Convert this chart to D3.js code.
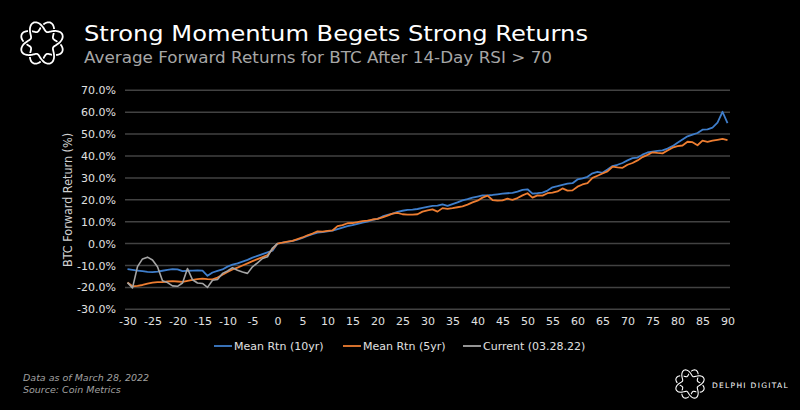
<!DOCTYPE html>
<html><head><meta charset="utf-8">
<script src="https://cdn.jsdelivr.net/npm/d3@7/dist/d3.min.js"></script>
<style>html,body{margin:0;padding:0;background:#000;}svg{display:block;}</style>
</head><body>
<svg id="c" width="800" height="410"></svg>
<script>
const days = d3.range(-30, 91);
const xTicks = d3.range(-30, 91, 5);
const yTicks = [-30, -20, -10, 0, 10, 20, 30, 40, 50, 60, 70];
const seriesNames = ["Mean Rtn (10yr)", "Mean Rtn (5yr)", "Current (03.28.22)"];
const mean10yr = [-11.7,-12.0,-12.3,-12.6,-12.9,-13.0,-12.8,-12.4,-12.0,-11.7,-11.8,-12.6,-12.4,-12.3,-12.2,-12.3,-14.7,-13.2,-12.5,-11.8,-10.5,-9.6,-9.0,-8.2,-7.4,-6.4,-5.6,-4.8,-4.0,-3.2,
 0,0.4,0.8,1.2,1.8,2.6,3.5,4.3,5.0,5.2,5.6,5.9,6.6,7.3,8.0,8.4,9.0,9.6,10.0,10.8,11.3,12.4,13.1,13.7,14.5,15.0,15.4,15.5,15.8,16.3,
 16.8,17.2,17.3,17.9,17.2,18.0,18.8,19.7,20.3,21.0,21.5,22.0,22.0,22.2,22.5,22.8,23.0,23.2,23.7,24.5,24.8,22.8,23.0,23.3,24.2,25.7,26.2,26.8,27.4,27.6,
 29.3,29.8,30.5,32.1,32.8,32.3,33.8,35.4,36.0,36.8,38.0,39.0,39.3,40.6,41.6,42.0,42.3,42.6,43.4,44.5,46.0,47.5,49.0,49.8,50.5,52.0,52.2,53.0,55.2,60.2,55.0];
const mean5yr = [-17.8,-19.5,-19.3,-18.9,-18.3,-17.8,-17.6,-17.6,-17.3,-17.1,-17.3,-17.5,-17.0,-16.6,-16.2,-16.0,-16.2,-16.3,-15.5,-14.2,-13.0,-11.8,-11.0,-10.0,-9.0,-8.0,-7.1,-6.2,-5.2,-2.5,
 0,0.4,0.9,1.2,2.0,2.8,3.8,4.6,5.6,5.5,5.8,6.0,8.0,8.4,9.3,9.4,9.8,10.3,10.5,11.0,11.3,12.0,12.8,13.7,14.0,13.4,13.2,13.2,13.4,14.6,
 15.2,15.6,14.6,16.2,15.9,16.2,16.6,17.0,17.8,18.8,19.6,21.0,21.9,19.9,19.6,19.7,20.5,20.0,20.8,22.0,23.0,21.0,22.0,21.9,23.0,23.3,23.8,25.2,24.2,24.3,
 26.0,27.0,27.6,30.0,31.0,32.0,33.0,35.1,34.8,34.6,36.0,36.8,38.0,39.5,40.5,41.7,41.4,41.2,42.5,43.8,44.5,44.8,46.5,46.3,44.9,47.0,46.5,47.0,47.4,47.8,47.3];
const current = [-17.8,-20.2,-10.5,-7.0,-6.2,-7.5,-10.6,-17.0,-17.8,-19.3,-19.5,-18.0,-11.4,-16.5,-18.0,-18.2,-20.0,-16.7,-16.4,-13.6,-12.5,-11.0,-12.2,-13.0,-13.6,-10.6,-8.8,-6.8,-6.0,-2.0,0];

const colors = ["#3f7ecb", "#ED7D31", "#A5A5A5"];
const svg = d3.select("#c");
svg.append("rect").attr("width", 800).attr("height", 410).attr("fill", "#000");

const x = d3.scaleLinear().domain([-30.5, 90.5]).range([125, 730]);
const y = d3.scaleLinear().domain([-30, 70]).range([309.3, 90.3]);
const FONT = "'DejaVu Sans', sans-serif";

// gridlines
svg.append("g").selectAll("line").data(yTicks).join("line")
  .attr("x1", 125).attr("x2", 730)
  .attr("y1", d => y(d)).attr("y2", d => y(d))
  .attr("stroke", "#424242").attr("stroke-width", 1.5);

// y axis labels
const yAxis = d3.axisLeft(y).tickValues(yTicks).tickSize(0).tickPadding(0)
  .tickFormat(d => d.toFixed(1) + "%");
const gy = svg.append("g").attr("transform", "translate(116,0)").call(yAxis);
gy.select(".domain").remove();
gy.selectAll("text").attr("fill", "#e0e0e0").style("font-family", FONT).style("font-size", "11px");

// x axis labels
const xAxis = d3.axisBottom(x).tickValues(xTicks).tickSize(0).tickPadding(0).tickFormat(d => String(d));
const gx = svg.append("g").attr("transform", "translate(0,317)").call(xAxis);
gx.select(".domain").remove();
gx.selectAll("text").attr("fill", "#e0e0e0").style("font-family", FONT).style("font-size", "11px");

// y title
svg.append("text").attr("transform", "translate(72,200) rotate(-90)")
  .attr("text-anchor", "middle").attr("fill", "#d0d0d0")
  .style("font-family", FONT).style("font-size", "11.5px")
  .attr("textLength", 134).attr("lengthAdjust", "spacingAndGlyphs")
  .text("BTC Forward Return (%)");

// lines
const line = d3.line().x((d, i) => x(days[i])).y(d => y(d));
[mean10yr, mean5yr].forEach((s, k) => {
  svg.append("path").datum(s).attr("d", line).attr("fill", "none")
    .attr("stroke", colors[k]).attr("stroke-width", 1.8).attr("stroke-linejoin", "round");
});
svg.append("path").datum(current).attr("d", line).attr("fill", "none")
  .attr("stroke", colors[2]).attr("stroke-width", 1.6).attr("stroke-linejoin", "round");

// legend
const legX = [214, 343, 463];
const leg = svg.append("g");
seriesNames.forEach((n, i) => {
  leg.append("line").attr("x1", legX[i]).attr("x2", legX[i] + 18).attr("y1", 346).attr("y2", 346)
    .attr("stroke", colors[i]).attr("stroke-width", 1.8);
  leg.append("text").attr("x", legX[i] + 20).attr("y", 350).attr("fill", "#e0e0e0")
    .style("font-family", FONT).style("font-size", "11px").text(n);
});

// titles
svg.append("text").attr("x", 84).attr("y", 41).attr("fill", "#ffffff")
  .style("font-family", FONT).style("font-size", "21px")
  .attr("textLength", 504).attr("lengthAdjust", "spacingAndGlyphs")
  .text("Strong Momentum Begets Strong Returns");
svg.append("text").attr("x", 84).attr("y", 63).attr("fill", "#a6a6a6")
  .style("font-family", FONT).style("font-size", "15.5px")
  .attr("textLength", 468).attr("lengthAdjust", "spacingAndGlyphs")
  .text("Average Forward Returns for BTC After 14-Day RSI > 70");

// footer
svg.append("text").attr("x", 23).attr("y", 381).attr("fill", "#a0a0a0")
  .style("font-family", FONT).style("font-size", "9.5px").style("font-style", "italic")
  .text("Data as of March  28, 2022");
svg.append("text").attr("x", 23).attr("y", 393).attr("fill", "#a0a0a0")
  .style("font-family", FONT).style("font-size", "9.5px").style("font-style", "italic")
  .text("Source: Coin Metrics");

// logos (braided ring)
function ring(cx, cy, R, a, sw) {
  const g = svg.append("g").attr("transform", `translate(${cx},${cy})`);
  const pts = d3.range(0, 360, 3).map(t => t * Math.PI / 180);
  [1, -1].forEach(sgn => {
    const p = d3.lineRadial().curve(d3.curveCardinalClosed)
      .angle(t => t).radius(t => R + sgn * a * Math.sin(4 * t));
    g.append("path").attr("d", p(pts)).attr("fill", "none")
      .attr("stroke", "#000").attr("stroke-width", sw + 2.2);
    g.append("path").attr("d", p(pts)).attr("fill", "none")
      .attr("stroke", "#fff").attr("stroke-width", sw);
  });
}
ring(42, 43, 17, 5, 1.8);
ring(690, 384, 11.5, 3.5, 1.1);
svg.append("text").attr("x", 712).attr("y", 388).attr("fill", "#ffffff")
  .style("font-family", FONT).style("font-size", "7.5px").style("letter-spacing", "1.3px")
  .text("DELPHI DIGITAL");
</script>
</body></html>
